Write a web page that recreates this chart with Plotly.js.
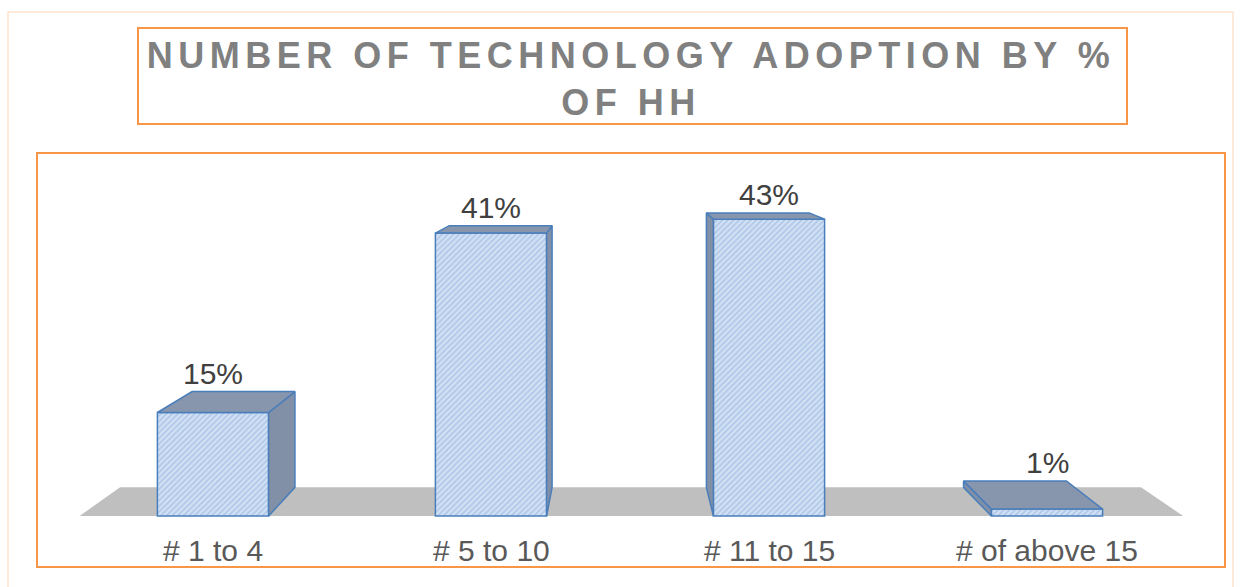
<!DOCTYPE html>
<html>
<head>
<meta charset="utf-8">
<script src="https://cdn.plot.ly/plotly-3.0.1.min.js"></script>
<style>
  body { margin: 0; background: #fff; }
  #chart { width: 1242px; height: 587px; }
  .gtitle { letter-spacing: 5.5px; }
</style>
</head>
<body>
<div id="chart"></div>
<script>
// categorias e valores (% de HH)
const categories = ['# 1 to 4', '# 5 to 10', '# 11 to 15', '# of above 15'];
const values = [15, 41, 43, 1];
const valueLabels = values.map(v => v + '%');

// tamanho da figura e área do gráfico (px)
const W = 1242, H = 587;
const M = {l: 37, r: 17, t: 153, b: 20};
const px = x => (x - M.l) / (W - M.l - M.r);
const py = y => (H - M.b - y) / (H - M.t - M.b);

// "3D": ponto de fuga e profundidade
const VP = {x: 1.464, y: 55.36};
const depth = 0.075;
const halfW = 0.2;
const back = p => [p[0] + depth * (VP.x - p[0]), p[1] + depth * (VP.y - p[1])];

const xs = categories.map((_, i) => i);

// faces de topo e laterais
const topX = [], topY = [], sideX = [], sideY = [];
xs.forEach((c, i) => {
    const v = values[i];
    const FL = [c - halfW, 0], FR = [c + halfW, 0];
    const TL = [c - halfW, v], TR = [c + halfW, v];
    [TL, TR, back(TR), back(TL), TL].forEach(p => { topX.push(p[0]); topY.push(p[1]); });
    topX.push(null); topY.push(null);
    let side;
    if (c + halfW < VP.x) side = [FR, TR, back(TR), back(FR), FR];
    else side = [FL, TL, back(TL), back(FL), FL];
    side.forEach(p => { sideX.push(p[0]); sideY.push(p[1]); });
    sideX.push(null); sideY.push(null);
});

const edge = {color: '#4a7ebb', width: 1.5};

const traces = [{
    type: 'scatter', mode: 'lines', x: sideX, y: sideY, fill: 'toself',
    fillcolor: '#8797ae',
    fillpattern: {shape: '|', fgcolor: '#6b7a92', bgcolor: '#97a6bc', size: 2, solidity: 0.5},
    line: edge, hoverinfo: 'skip'
}, {
    type: 'bar', x: xs, y: values, width: 2 * halfW,
    marker: {
        color: '#c9dbf2',
        line: edge,
        pattern: {shape: '/', fgcolor: '#adc6e8', bgcolor: '#d2e1f4', size: 4, solidity: 0.4}
    },
    hoverinfo: 'skip'
}, {
    type: 'scatter', mode: 'lines', x: topX, y: topY, fill: 'toself',
    fillcolor: '#8d9db5',
    fillpattern: {shape: '-', fgcolor: '#72829a', bgcolor: '#9cabc0', size: 2, solidity: 0.5},
    line: edge, hoverinfo: 'skip'
}];

// piso cinza
const floorL = -0.48, floorR = 3.49;
const bL = back([floorL, 0]), bR = back([floorR, 0]);
const floorPath = `M ${floorL} 0 L ${floorR} 0 L ${bR[0]} ${bR[1]} L ${bL[0]} ${bL[1]} Z`;

const annotations = [];
xs.forEach((c, i) => {
    const bt = back([c, values[i]]);
    annotations.push({
        x: c, y: bt[1], xref: 'x', yref: 'y', text: valueLabels[i],
        showarrow: false, yanchor: 'bottom', yshift: 0,
        font: {family: 'Liberation Sans, Arial, sans-serif', size: 30, color: '#404040'}
    });
    annotations.push({
        x: c, y: 0, xref: 'x', yref: 'y', text: categories[i],
        showarrow: false, yanchor: 'top', yshift: -16,
        font: {family: 'Liberation Sans, Arial, sans-serif', size: 30, color: '#595959'}
    });
});

const layout = {
    width: W, height: H,
    margin: {l: M.l, r: M.r, t: M.t, b: M.b, pad: 0},
    paper_bgcolor: '#ffffff', plot_bgcolor: '#ffffff',
    showlegend: false,
    title: {
        text: 'NUMBER OF TECHNOLOGY ADOPTION BY %<br>OF HH',
        font: {family: 'Liberation Sans, Arial, sans-serif', size: 36, color: '#808080', weight: 'bold'},
        xref: 'paper', x: 0.5, yref: 'container', y: 1 - 68 / H, yanchor: 'top'
    },
    xaxis: {range: [(M.l - 213) / 278, (W - M.r - 213) / 278], visible: false, fixedrange: true},
    yaxis: {range: [(516 - (H - M.b)) / 6.9, (516 - M.t) / 6.9], visible: false, fixedrange: true},
    shapes: [
        // borda externa
        {type: 'rect', xref: 'paper', yref: 'paper', x0: px(8), x1: px(1233), y0: py(12), y1: py(600),
         line: {color: '#fde4cf', width: 1.5}, layer: 'below'},
        // caixa do título
        {type: 'rect', xref: 'paper', yref: 'paper', x0: px(138), x1: px(1127), y0: py(28), y1: py(124),
         line: {color: '#f79646', width: 2}},
        // caixa da área do gráfico
        {type: 'rect', xref: 'paper', yref: 'paper', x0: px(37), x1: px(1225), y0: py(153), y1: py(567),
         line: {color: '#f79646', width: 2}},
        {type: 'path', xref: 'x', yref: 'y', path: floorPath, fillcolor: '#bfbfbf',
         line: {width: 0}, layer: 'below'}
    ],
    annotations: annotations,
    hovermode: false
};

Plotly.newPlot('chart', traces, layout, {displayModeBar: false, staticPlot: true});
</script>
</body>
</html>
